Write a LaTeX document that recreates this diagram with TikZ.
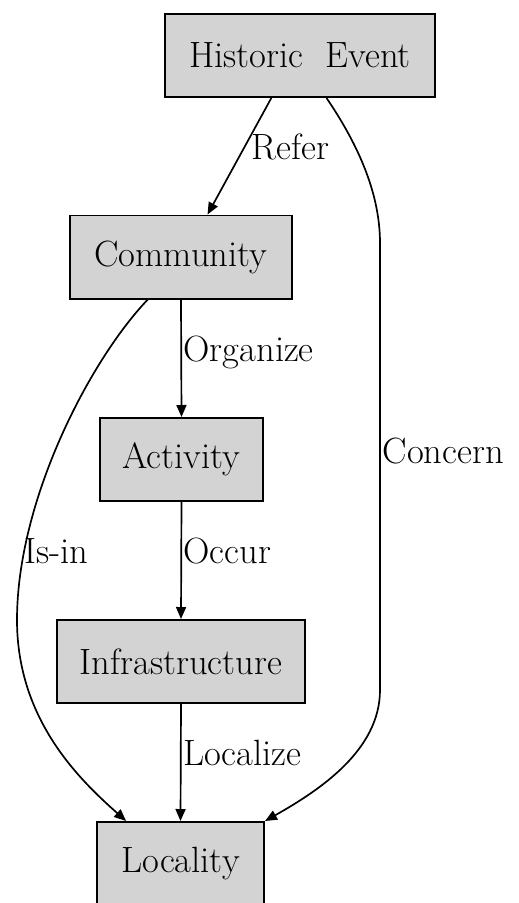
\documentclass[tikz,border=0pt]{standalone}
\usetikzlibrary{arrows.meta}
\definecolor{boxgray}{RGB}{211,211,211}

\begin{document}
\begin{tikzpicture}[x=0.025cm,y=-0.025cm,
  box/.style={draw,fill=boxgray,line width=1.4pt,inner sep=0pt,minimum height=2.075cm,font=\fontsize{26}{30}\selectfont},
  edge/.style={line width=1.2pt,-{Triangle[length=0.3cm,width=0.25cm]}},
  lbl/.style={inner sep=1pt,text height=0.68em,text depth=0.22em,font=\fontsize{26}{30}\selectfont}]
\useasboundingbox (0,0) rectangle (519,903);
%\draw[style=help lines,step=50] (0,0) grid (519,903);

\node[box,minimum width=6.75cm] (he) at (300,55.5){Historic~ Event};
\node[box,minimum width=5.55cm] (com) at (181,257){Community};
\node[box,minimum width=4.075cm] (act) at (181.5,459.5){Activity};
\node[box,minimum width=6.2cm] (inf) at (181,661.5){Infrastructure};
\node[box,minimum width=4.175cm] (loc) at (180.5,863.5){Locality};

\draw[edge] (he.-124) -- node[lbl,right,xshift=0.25cm]{Refer} (com.58.6);
\draw[edge] (com.south) -- node[lbl,right]{Organize} (act.north);
\draw[edge] (act.south) -- node[lbl,right]{Occur} (inf.north);
\draw[edge] (inf.south) -- node[lbl,right]{Localize} (loc.north);

\draw[edge] (com.-128) .. controls (90,360) and (17,500) .. (17,620)
  .. controls (17,720) and (80,780) .. (loc.142);
\node[lbl,anchor=west] (isin) at (23,560){Is-in};

\draw[edge] (he.-58) .. controls (355,140) and (380,190) .. (380,243) -- (380,690)
  .. controls (380,750) and (320,790) .. (loc.north east);
\node[lbl,anchor=west] (concern) at (381,460){Concern};

\end{tikzpicture}
\end{document}
